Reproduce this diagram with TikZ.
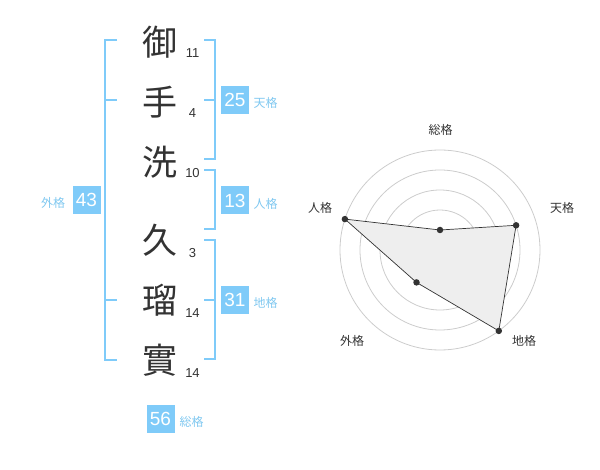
\documentclass[tikz,border=0pt]{standalone}
\usepackage{fontspec}
\setmainfont{Liberation Sans}
\newfontfamily\cjk{Noto Sans CJK JP}
\definecolor{sky}{RGB}{127,203,249}
\definecolor{skytxt}{RGB}{128,200,240}
\definecolor{ink}{RGB}{51,51,51}
\definecolor{ring}{RGB}{204,204,204}
\definecolor{area}{RGB}{238,238,238}
\begin{document}
\begin{tikzpicture}[x=1pt,y=-1pt,
  kanji/.style={inner sep=0pt,text=ink,font=\cjk\fontsize{35}{35}\selectfont},
  stroke/.style={inner sep=0pt,text=ink,font=\fontsize{13}{13}\selectfont},
  sumbox/.style={fill=sky,text=white,minimum width=28pt,minimum height=28pt,inner sep=0pt,font=\fontsize{19}{19}\selectfont},
  sumlab/.style={inner sep=0pt,text=skytxt,font=\cjk\fontsize{12}{12}\selectfont},
  brk/.style={draw=sky,line width=2pt},
  radlab/.style={inner sep=0pt,text=ink,font=\cjk\fontsize{12}{12}\selectfont},
  dot/.style={circle,fill=ink,inner sep=0pt,minimum size=6.5pt},
]
\useasboundingbox (0,0) rectangle (600,470);
% kanji
\node[kanji] (k1) at (160,42) {御};
\node[kanji] (k2) at (160,102) {手};
\node[kanji] (k3) at (160,162) {洗};
\node[kanji] (k4) at (160,240) {久};
\node[kanji] (k5) at (160,300) {瑠};
\node[kanji] (k6) at (160,360) {實};
\node[stroke] (s1) at (192.5,53) {11};
\node[stroke] (s2) at (192.5,113) {4};
\node[stroke] (s3) at (192.5,173) {10};
\node[stroke] (s4) at (192.5,253) {3};
\node[stroke] (s5) at (192.5,313) {14};
\node[stroke] (s6) at (192.5,373) {14};
% brackets
\draw[brk] (117,40) -- (105,40) -- (105,360) -- (117,360);
\draw[brk] (105,100) -- (117,100);
\draw[brk] (105,300) -- (117,300);
\draw[brk] (204,40) -- (215,40) -- (215,159) -- (204,159);
\draw[brk] (204,100) -- (215,100);
\draw[brk] (204,170) -- (215,170) -- (215,229) -- (204,229);
\draw[brk] (204,240) -- (215,240) -- (215,359) -- (204,359);
\draw[brk] (204,300) -- (215,300);
% sum boxes
\node[sumbox] (ten) at (235,100) {25};
\node[sumlab] (tenl) at (265.5,103) {天格};
\node[sumbox] (jin) at (235,200.5) {13};
\node[sumlab] (jinl) at (265.5,203.5) {人格};
\node[sumbox] (chi) at (235,300) {31};
\node[sumlab] (chil) at (265.5,303) {地格};
\node[sumbox] (gai) at (86.5,200) {43};
\node[sumlab] (gail) at (53,203) {外格};
\node[sumbox] (sou) at (160.5,419) {56};
\node[sumlab] (soul) at (191.5,422) {総格};
% radar
\coordinate (c) at (440,250);
\foreach \r in {20,40,60,80,100} \draw[ring,line width=0.8pt] (c) circle (\r);
\fill[ring] (c) circle (3.2);
\coordinate (p1) at (440,230);
\coordinate (p2) at (516.1,225.3);
\coordinate (p3) at (498.8,330.9);
\coordinate (p4) at (416.5,282.4);
\coordinate (p5) at (344.9,219.1);
\filldraw[fill=area,draw=ink,line width=0.7pt] (p1) -- (p2) -- (p3) -- (p4) -- (p5) -- cycle;
\foreach \p in {p1,p2,p3,p4,p5} \node[dot] at (\p) {};
\node[radlab] (l1) at (440.5,130) {総格};
\node[radlab] (l2) at (562,208) {天格};
\node[radlab] (l3) at (524,341) {地格};
\node[radlab] (l4) at (352,341) {外格};
\node[radlab] (l5) at (320,208) {人格};
\end{tikzpicture}
\end{document}
